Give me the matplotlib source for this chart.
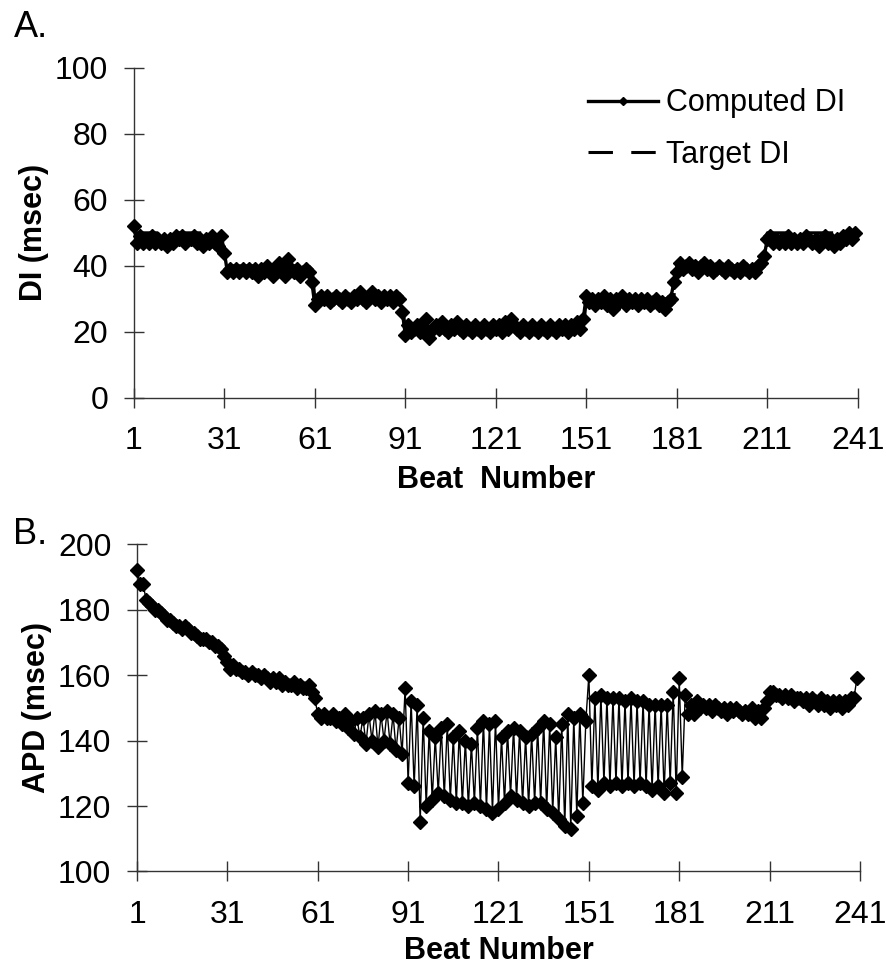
import numpy as np
import matplotlib
matplotlib.use("Agg")
import matplotlib.pyplot as plt

plt.rcParams['font.family'] = ['Liberation Sans', 'DejaVu Sans']

# Panel A: diastolic interval (msec) per beat
computed_di = [
    52, 47, 49, 47, 48, 47, 49, 47, 48, 47, 48, 46, 48, 47, 49, 48, 49, 47, 48, 48,
    49, 47, 48, 46, 48, 47, 49, 47, 46, 49,
    44, 38, 39, 38, 39, 38, 39, 38, 39, 38, 39, 37, 39, 38, 40, 38, 37, 39, 41, 38,
    37, 42, 39, 38, 39, 37, 38, 39, 38, 35,
    28, 30, 31, 30, 31, 29, 30, 31, 30, 29, 31, 30, 29, 31, 30, 32, 30, 29, 31, 32,
    30, 31, 29, 31, 30, 31, 29, 31, 30, 26,
    19, 22, 20, 21, 22, 20, 21, 24, 18, 21, 22, 21, 23, 21, 20, 22, 21, 23, 21, 20,
    22, 21, 20, 22, 21, 20, 22, 21, 20, 22, 21, 22, 20, 23, 21, 24, 22, 21, 20, 22,
    21, 20, 22, 21, 20, 22, 21, 20, 22, 21, 20, 22, 21, 22, 20, 22, 21, 23, 21, 24,
    31, 29, 30, 28, 30, 29, 31, 28, 30, 27, 30, 29, 31, 28, 30, 29, 30, 28, 30, 29,
    30, 28, 29, 30, 28, 29, 27, 29, 30, 35,
    38, 41, 39, 40, 41, 39, 40, 38, 40, 41, 39, 40, 38, 39, 40, 39, 38, 40, 39, 38,
    39, 38, 40, 39, 38, 39, 38, 40, 41, 43,
    48, 49, 47, 48, 47, 48, 47, 49, 47, 48, 47, 48, 47, 49, 48, 47, 48, 46, 48, 49,
    47, 48, 46, 48, 47, 49, 48, 50, 48, 50,
]

target_beats = [1, 30, 31, 60, 61, 90, 91, 150, 151, 180, 181, 210, 211, 240]
target_di = [50, 50, 40, 40, 30, 30, 20, 20, 30, 30, 40, 40, 50, 50]

# Panel B: action potential duration (msec) per beat
apd = [
    192, 188, 188, 183, 182, 181, 180, 180, 179, 178, 177, 177, 176, 175, 175, 174,
    175, 174, 173, 173, 172, 171, 171, 171, 170, 170, 169, 169, 168, 166,
    164, 162, 163, 162, 162, 161, 161, 160, 161, 160, 160, 159, 160, 159, 158, 159,
    158, 159, 157, 158, 157, 157, 158, 156, 157, 156, 156, 157, 155, 153,
    148, 147, 148, 147, 147, 148, 146, 147, 145, 148, 144, 146, 142, 147, 141, 147,
    139, 148, 140, 149, 138, 148, 140, 149, 139, 148, 137, 147, 136, 156,
    127, 152, 126, 151, 115, 147, 120, 143, 122, 141, 124, 144, 123, 145, 122, 141,
    121, 143, 121, 140, 120, 139, 121, 144, 120, 146, 119, 145, 118, 146, 119, 141,
    121, 143, 123, 144, 122, 143, 121, 141, 120, 142, 121, 144, 121, 146, 119, 145,
    118, 141, 116, 145, 114, 148, 113, 147, 117, 148, 121, 146,
    160, 126, 153, 125, 154, 127, 153, 126, 153, 127, 153, 126, 152, 127, 153, 126,
    152, 127, 152, 126, 151, 125, 151, 126, 151, 124, 151, 127, 155, 124,
    159, 129, 154, 148, 151, 148, 152, 150, 151, 150, 151, 149, 151, 150, 149, 150,
    148, 150, 149, 150, 149, 148, 149, 148, 150, 147, 149, 147, 150, 152,
    155, 155, 154, 154, 153, 154, 153, 154, 152, 153, 153, 152, 153, 151, 153, 152,
    151, 153, 151, 152, 150, 152, 151, 152, 150, 152, 151, 153, 153, 159,
]

beats_di = np.arange(1, len(computed_di) + 1)
beats_apd = np.arange(1, len(apd) + 1)
xticks = [1, 31, 61, 91, 121, 151, 181, 211, 241]

fig = plt.figure(figsize=(8.87, 9.68), dpi=100)
ax1 = fig.add_axes([0.151, 0.589, 0.816, 0.341])
ax2 = fig.add_axes([0.1545, 0.0997, 0.815, 0.338])


def style_axes(ax, ylim, yticks):
    ax.set_xlim(1, 241)
    ax.set_ylim(*ylim)
    ax.set_xticks(xticks)
    ax.set_yticks(yticks)
    for side in ('top', 'right'):
        ax.spines[side].set_visible(False)
    for side in ('left', 'bottom'):
        ax.spines[side].set_linewidth(1.0)
        ax.spines[side].set_color('#333333')
    ax.tick_params(axis='both', direction='inout', length=15, width=1.0,
                   color='#333333', labelsize=23)
    ax.tick_params(axis='x', pad=13)
    ax.tick_params(axis='y', pad=11)
    for lab in ax.get_xticklabels() + ax.get_yticklabels():
        lab.set_clip_on(False)


# Panel A
ax1.plot(target_beats, target_di, color='black', lw=2.2, ls=(0, (8, 6)),
         label='Target DI', zorder=2)
ax1.plot(beats_di, computed_di, color='black', lw=2.4, marker='D', ms=7,
         label='Computed DI', zorder=3, clip_on=False)
style_axes(ax1, (0, 100), [0, 20, 40, 60, 80, 100])
ax1.set_ylabel('DI (msec)', fontsize=22, fontweight='bold', labelpad=4)
ax1.set_xlabel('Beat  Number', fontsize=22, fontweight='bold', labelpad=6)
handles, labels = ax1.get_legend_handles_labels()
ax1.legend(handles[::-1], labels[::-1], loc='upper right', frameon=False,
           fontsize=22, handlelength=2.3, handletextpad=0.26, labelspacing=0.7,
           markerscale=0.6, bbox_to_anchor=(1.0, 0.975), borderaxespad=0.0)

# Panel B
ax2.plot(beats_apd, apd, color='black', lw=1.0, marker='D', ms=7, zorder=3,
         clip_on=False)
style_axes(ax2, (100, 200), [100, 120, 140, 160, 180, 200])
ax2.set_ylabel('APD (msec)', fontsize=22, fontweight='bold', labelpad=4)
ax2.set_xlabel('Beat Number', fontsize=22, fontweight='bold', labelpad=4)

fig.text(0.016, 0.99, 'A.', fontsize=26, va='top', ha='left')
fig.text(0.015, 0.466, 'B.', fontsize=26, va='top', ha='left')

fig.savefig('out.png', dpi=100)
